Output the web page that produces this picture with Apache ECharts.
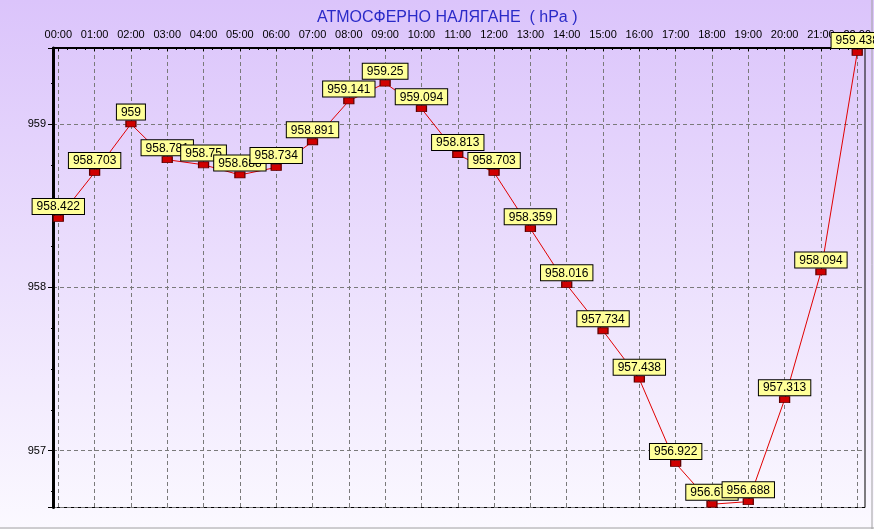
<!DOCTYPE html>
<html>
<head>
<meta charset="utf-8">
<script src="https://cdn.jsdelivr.net/npm/echarts@6/dist/echarts.min.js"></script>
<style>
html,body{margin:0;padding:0;background:#fff;}
#c{width:874px;height:529px;}
</style>
</head>
<body>
<div id="c"></div>
<script>
const titleText = 'АТМОСФЕРНО НАЛЯГАНЕ  ( hPa )';
const hours = ['00:00','01:00','02:00','03:00','04:00','05:00','06:00','07:00','08:00','09:00','10:00','11:00','12:00','13:00','14:00','15:00','16:00','17:00','18:00','19:00','20:00','21:00','22:00'];
const pressure = [958.422,958.703,959,958.781,958.75,958.688,958.734,958.891,959.141,959.25,959.094,958.813,958.703,958.359,958.016,957.734,957.438,956.922,956.672,956.688,957.313,958.094,959.438];
const yTickLabels = [957, 958, 959];
const yMin = 956.652, yMax = 959.465;

const FONT = 'Liberation Sans, Arial, sans-serif';
const chart = echarts.init(document.getElementById('c'), null, {renderer:'canvas'});

const frame = {left:53, right:9, top:48, bottom:21.5};
const dataX = {left:58.3, right:13.7};

chart.setOption({
  animation:false,
  backgroundColor: new echarts.graphic.LinearGradient(0,0,0,1,[
    {offset:0,color:'#dbc4fb'},{offset:1,color:'#fbf9ff'}
  ]),
  title:{
    text:titleText, left:312, top:5,
    textStyle:{color:'#2a2ac8', fontSize:16, fontWeight:'normal', fontFamily:FONT}
  },
  graphic:[
    {type:'line', shape:{x1:0,y1:528,x2:874,y2:528}, style:{stroke:'#a0a0a0',lineWidth:1}},
    {type:'line', shape:{x1:872,y1:0,x2:872,y2:529}, style:{stroke:'#a0a0a0',lineWidth:1}}
  ],
  grid:[
    {left:frame.left, right:frame.right, top:frame.top, bottom:frame.bottom, show:true, borderColor:'#000', borderWidth:1, backgroundColor:'transparent'},
    {left:dataX.left, right:dataX.right, top:frame.top, bottom:frame.bottom}
  ],
  xAxis:[
    {gridIndex:0, type:'value', min:0, max:1, position:'top',
     axisLine:{show:true, lineStyle:{color:'#000', width:2}}, axisTick:{show:false}, axisLabel:{show:false}, splitLine:{show:false}},
    {gridIndex:1, type:'value', min:0, max:hours.length-1, interval:1, position:'top',
     axisLine:{show:false},
     axisTick:{show:true, inside:true, length:3, lineStyle:{color:'#000'}},
     minorTick:{show:true, splitNumber:4, length:2, lineStyle:{color:'#000'}},
     axisLabel:{show:true, margin:8, color:'#000', fontSize:11, fontFamily:FONT, formatter:v=>hours[v]},
     splitLine:{show:true, lineStyle:{color:'#7a7a7a', type:[4,3], width:1}}}
  ],
  yAxis:[
    {gridIndex:0, type:'value', min:yMin, max:yMax, splitNumber:2, position:'left',
     axisLine:{show:true, lineStyle:{color:'#000', width:3}},
     axisTick:{show:true, length:5, lineStyle:{color:'#000'}},
     minorTick:{show:true, splitNumber:4, length:2, lineStyle:{color:'#000'}},
     axisLabel:{show:true, margin:7, color:'#000', fontSize:11, fontFamily:FONT,
       showMinLabel:false, showMaxLabel:false,
       formatter:v=>yTickLabels.includes(v)?String(v):''},
     splitLine:{show:true, lineStyle:{color:'#7a7a7a', type:[4,3], width:1}}},
    {gridIndex:1, type:'value', min:yMin, max:yMax, show:false}
  ],
  series:[{
    type:'line', xAxisIndex:1, yAxisIndex:1,
    data: pressure.map((v,i)=>[i,v]),
    lineStyle:{color:'#e00000', width:1},
    symbol:'rect', symbolSize:[10,6],
    itemStyle:{color:'#d00000', borderColor:'#600000', borderWidth:1},
    label:{show:true, position:'top', distance:1,
      formatter:p=>String(p.value[1]),
      color:'#000', fontSize:12, fontFamily:FONT,
      backgroundColor:'#ffff99', borderColor:'#000', borderWidth:1,
      padding:[2,4,1,4]},
    z:5
  }]
});
</script>
</body>
</html>
